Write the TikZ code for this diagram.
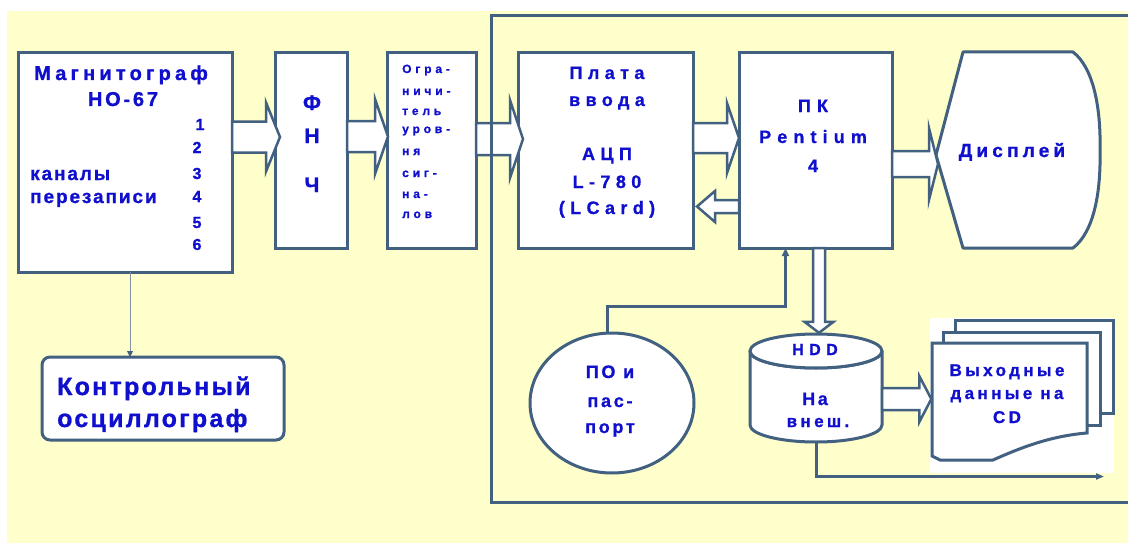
\documentclass[tikz,border=0pt]{standalone}
\usepackage{fontspec}
\setmainfont{Liberation Sans}[UprightFont=* Bold]
\usetikzlibrary{arrows.meta,calc,shapes.geometric}
\definecolor{bgy}{RGB}{255,255,204}
\definecolor{bc}{RGB}{66,96,128}
\definecolor{tb}{RGB}{15,15,205}
\definecolor{thinc}{RGB}{130,145,160}
\newcommand{\ft}[2]{\fontsize{#1}{#1}\selectfont\addfontfeature{LetterSpace=#2,FakeBold=1}}
\newcommand{\rarr}[5]{\draw[barrow] ($(#1)+(0,-#3)$) -- ($(#2)+(-#5,-#3)$) -- ($(#2)+(-#5,-#4)$) -- (#2) -- ($(#2)+(-#5,#4)$) -- ($(#2)+(-#5,#3)$) -- ($(#1)+(0,#3)$) -- cycle;}
\newcommand{\larr}[5]{\draw[barrow] ($(#1)+(0,-#3)$) -- ($(#2)+(#5,-#3)$) -- ($(#2)+(#5,-#4)$) -- (#2) -- ($(#2)+(#5,#4)$) -- ($(#2)+(#5,#3)$) -- ($(#1)+(0,#3)$) -- cycle;}
\newcommand{\darr}[5]{\draw[barrow] ($(#1)+(-#3,0)$) -- ($(#2)+(-#3,-#5)$) -- ($(#2)+(-#4,-#5)$) -- (#2) -- ($(#2)+(#4,-#5)$) -- ($(#2)+(#3,-#5)$) -- ($(#1)+(#3,0)$) -- cycle;}
\tikzset{
  box/.style={draw=bc, line width=3pt, fill=white, inner sep=0pt, outer sep=0pt},
  lbl/.style={text=tb, inner sep=0pt, anchor=base},
  lblw/.style={text=tb, inner sep=0pt, anchor=base west},
  barrow/.style={draw=bc, fill=white, line width=2.5pt, line join=miter},
  conn/.style={draw=bc, line width=3pt},
  shp/.style={draw=bc, fill=white, line width=3pt, line join=round},
}
\begin{document}
\begin{tikzpicture}[x=1pt,y=-1pt]
\useasboundingbox (0,0) rectangle (1128,543);
\fill[white] (0,0) rectangle (1128,543);
\fill[bgy] (7,11) rectangle (1128,543);

% boxes
\node[box, minimum width=214, minimum height=219] (mag) at (125,162.5) {};
\node[box, minimum width=72, minimum height=195] (fnch) at (311,150.5) {};
\node[box, minimum width=89, minimum height=195] (lim) at (431.5,150.5) {};
\node[box, minimum width=175, minimum height=195] (plata) at (605.5,150.5) {};
\node[box, minimum width=153, minimum height=195] (pk) at (815.5,150.5) {};
\node[box, rounded corners=8pt, minimum width=242, minimum height=83] (osc) at (163,398.5) {};

% display
\draw[shp] (963,52) -- (1073,52) .. controls (1094,68) and (1101,110) .. (1100,150)
  .. controls (1101,192) and (1094,232) .. (1073,248) -- (963,248) -- (936,155) -- cycle;
\coordinate (dispin) at (938,164);

% PO ellipse
\node[shp, ellipse, minimum width=164, minimum height=140, inner sep=0pt] (po) at (612,403) {};

% HDD cylinder
\node[inner sep=0pt, minimum width=132, minimum height=108] (hdd) at (816,388) {};
\draw[shp] (750,351) -- (750,425) arc (180:0:66 and 17) -- (882,351) arc (0:180:66 and 17) -- cycle;
\draw[shp] (816,351) ellipse (66 and 17);

% CD stack
\fill[white] (930,318) rectangle (1114,473);
\draw[shp, line join=miter] (955,320) rectangle (1113,413);
\draw[shp, line join=miter] (943,332) rectangle (1100,425);
\draw[shp, line join=miter] (932,343) -- (1087,343) -- (1087,433) .. controls (1050,436) and (1020,448) .. (993,460) -- (940,460) -- (932,456) -- cycle;
\node[inner sep=0pt, minimum width=155, minimum height=114] (cd) at (1009,400) {};

% helper levels
\coordinate (h1) at (0,137);
\coordinate (h2) at (0,136.5);
\coordinate (h3) at (0,139);
\coordinate (h4) at (0,138);
\coordinate (h5) at (0,206.5);
\coordinate (h6) at (0,164);
\coordinate (h8) at (0,399);

% block arrows
\coordinate (a1s) at (mag.east |- h1);   \coordinate (a1t) at ($(fnch.west |- h1)+(5,0)$);
\rarr{a1s}{a1t}{15.5}{34.5}{14}
\coordinate (a2s) at (fnch.east |- h2);  \coordinate (a2t) at ($(lim.west |- h2)+(1,0)$);
\rarr{a2s}{a2t}{15.5}{37.5}{13}
\coordinate (a3s) at (lim.east |- h3);   \coordinate (a3t) at ($(plata.west |- h3)+(5,0)$);
\rarr{a3s}{a3t}{16}{39}{13}
\coordinate (a4s) at (plata.east |- h4); \coordinate (a4t) at (pk.west |- h4);
\rarr{a4s}{a4t}{15}{35}{12}
\coordinate (a5s) at (pk.west |- h5);    \coordinate (a5t) at ($(plata.east |- h5)+(4,0)$);
\larr{a5s}{a5t}{6.5}{15.5}{18}
\coordinate (a6s) at (pk.east |- h6);
\rarr{a6s}{dispin}{13}{36}{9}
\coordinate (a7s) at ($(pk.south)+(3.5,0)$); \coordinate (a7t) at ($(hdd.north)+(3,-1)$);
\darr{a7s}{a7t}{6}{14.5}{11}
\coordinate (a8s) at (hdd.east |- h8);   \coordinate (a8t) at (cd.west |- h8);
\rarr{a8s}{a8t}{11}{23}{12}

% thin connectors
\coordinate (pkin) at ($(pk.south)+(-30,0)$);
\coordinate (poout) at ($(po.north)+(-5,0)$);
\draw[conn, -{Triangle[length=8pt,width=7pt]}] (poout) |- ($(pkin)+(0,58)$) -- (pkin);
\coordinate (cdout) at (1104,476.5);
\draw[conn, -{Triangle[length=8pt,width=6pt]}] (hdd.south) |- (cdout);
\coordinate (m1) at ($(mag.south)+(5,0)$);
\draw[thinc, line width=1pt, -{Triangle[length=6pt,width=6pt,fill=bc,color=bc]}] (m1) -- (m1 |- osc.north);

% frame
\draw[conn, line join=miter] (1128,16) -- (491,16) -- (491,502) -- (1128,502);

% texts
\node[lbl] (tm1) at (121,80) {\ft{20}{21}Магнитограф};
\node[lbl] (tm2) at (123,106) {\ft{20}{14}НО-67};
\node[lbl] (n1) at (200,130) {\ft{16}{0}1};
\node[lbl] (n2) at (197,153) {\ft{16}{0}2};
\node[lbl] (n3) at (197,179) {\ft{16}{0}3};
\node[lbl] (n4) at (197,202) {\ft{16}{0}4};
\node[lbl] (n5) at (197,228) {\ft{16}{0}5};
\node[lbl] (n6) at (197,250) {\ft{16}{0}6};
\node[lblw] (tk1) at (30,180) {\ft{19}{10}каналы};
\node[lblw] (tk2) at (30,203) {\ft{19}{10}перезаписи};

\node[lbl] (f1) at (312,110) {\ft{21}{0}Ф};
\node[lbl] (f2) at (312,143) {\ft{21}{0}Н};
\node[lbl] (f3) at (312,192) {\ft{21}{0}Ч};

\node[lblw] (l1) at (402,73) {\ft{12}{32}Огра-};
\node[lblw] (l2) at (402,95) {\ft{12}{32}ничи-};
\node[lblw] (l3) at (402,115) {\ft{12}{32}тель};
\node[lblw] (l4) at (402,133) {\ft{12}{32}уров-};
\node[lblw] (l5) at (402,155) {\ft{12}{32}ня};
\node[lblw] (l6) at (402,177) {\ft{12}{32}сиг-};
\node[lblw] (l7) at (402,198) {\ft{12}{32}на-};
\node[lblw] (l8) at (402,218) {\ft{12}{32}лов};

\node[lbl] (p1) at (607,79) {\ft{18}{30}Плата};
\node[lbl] (p2) at (607,106) {\ft{18}{30}ввода};
\node[lbl] (p3) at (607,160) {\ft{18}{30}АЦП};
\node[lbl] (p4) at (607,188) {\ft{18}{30}L-780};
\node[lbl] (p5) at (607,214) {\ft{18}{30}(LCard)};

\node[lbl] (k1) at (813,112) {\ft{18}{34}ПК};
\node[lbl] (k2) at (813,143) {\ft{18}{34}Pentium};
\node[lbl] (k3) at (813,172) {\ft{18}{34}4};

\node[lbl] (d1) at (1012,157) {\ft{19}{22}Дисплей};

\node[lbl] (o1) at (610,378) {\ft{18}{15}ПО и};
\node[lbl] (o2) at (610,407) {\ft{18}{15}пас-};
\node[lbl] (o3) at (610,433) {\ft{18}{15}порт};

\node[lbl] (hd1) at (815,355) {\ft{16}{34}HDD};
\node[lbl] (hd2) at (815,405) {\ft{18}{15}На};
\node[lbl] (hd3) at (818,427) {\ft{17}{20}внеш.};

\node[lbl] (c1) at (1007,376) {\ft{17}{20}Выходные};
\node[lbl] (c2) at (1007,399) {\ft{17}{20}данные на};
\node[lbl] (c3) at (1007,423) {\ft{17}{20}CD};

\node[lblw] (os1) at (57,395) {\ft{25}{9}Контрольный};
\node[lblw] (os2) at (57,427) {\ft{25}{9}осциллограф};
\end{tikzpicture}
\end{document}
